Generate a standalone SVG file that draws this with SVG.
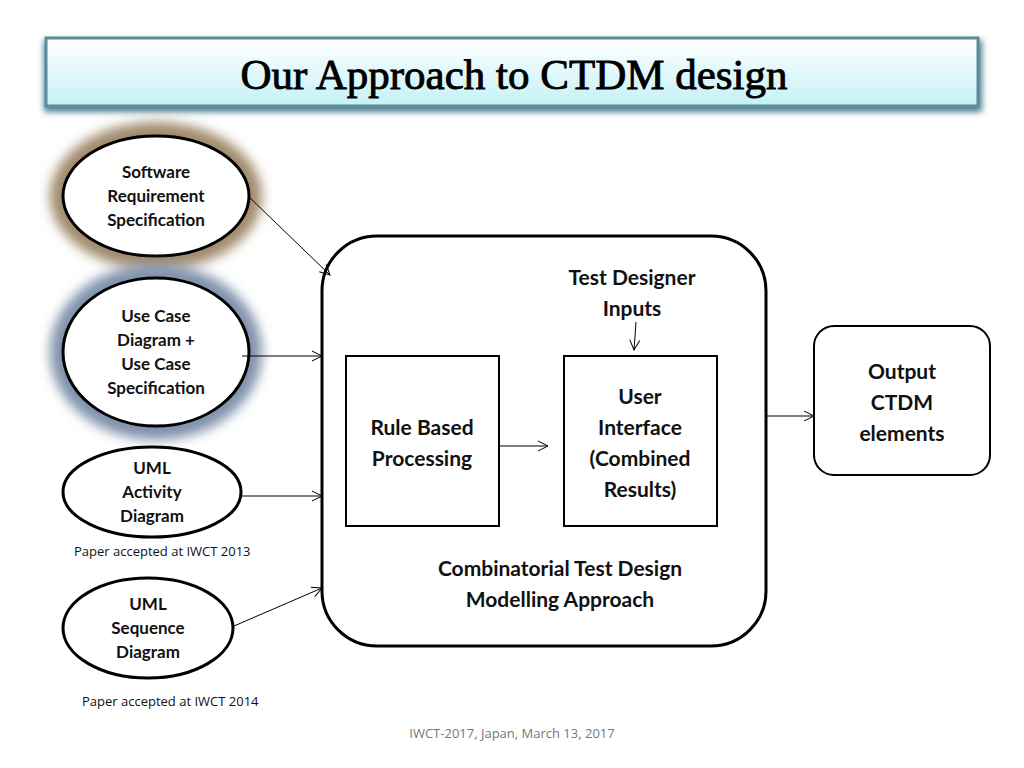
<svg xmlns="http://www.w3.org/2000/svg" width="1024" height="768" viewBox="0 0 1024 768">
<defs>
<linearGradient id="tg" x1="0" y1="0" x2="0" y2="1"><stop offset="0" stop-color="#ffffff"/><stop offset="1" stop-color="#c4f1f7"/></linearGradient>
<filter id="blur" x="-30%" y="-30%" width="160%" height="160%"><feGaussianBlur stdDeviation="6"/></filter>
<filter id="sh" x="-5%" y="-20%" width="110%" height="150%"><feGaussianBlur stdDeviation="3"/></filter>
<marker id="ah" viewBox="0 0 12 12" refX="11" refY="6" markerWidth="12" markerHeight="12" markerUnits="userSpaceOnUse" orient="auto"><path d="M1,1 L11,6 L1,11" fill="none" stroke="#000" stroke-width="1"/></marker>
<style>
.n{fill:#fff;stroke:#000;stroke-width:3}
.t{font-family:Lato,"Open Sans",sans-serif;font-weight:bold;text-anchor:middle;fill:#111}
.s{font-size:17px}.b{font-size:21px}
.c{stroke:#000;stroke-width:1;fill:none;marker-end:url(#ah)}
.f{font-family:"Open Sans",sans-serif;font-size:13px;fill:#111}
</style>
</defs>
<rect width="1024" height="768" fill="#fff"/>
<g id="title">
<rect x="44" y="40" width="938" height="72" fill="#4a8090" filter="url(#sh)"/>
<rect x="46" y="38" width="932" height="68" fill="url(#tg)" stroke="#5a8c9a" stroke-width="3"/>
<text x="514" y="89" font-family="'Liberation Serif',serif" font-size="43" text-anchor="middle" fill="#000" stroke="#000" stroke-width="0.9">Our Approach to CTDM design</text>
</g>
<g id="srs">
<ellipse cx="156" cy="196" rx="106" ry="74" fill="#a08a6c" filter="url(#blur)"/>
<ellipse class="n" cx="156" cy="196" rx="93" ry="60"/>
<text class="t s" x="156" y="178">Software</text><text class="t s" x="156" y="202">Requirement</text><text class="t s" x="156" y="226">Specification</text>
</g>
<g id="usecase">
<ellipse cx="156" cy="352" rx="106" ry="88" fill="#8092ac" filter="url(#blur)"/>
<ellipse class="n" cx="156" cy="352" rx="93" ry="74"/>
<text class="t s" x="156" y="322">Use Case</text><text class="t s" x="156" y="346">Diagram +</text><text class="t s" x="156" y="370">Use Case</text><text class="t s" x="156" y="394">Specification</text>
</g>
<g id="activity">
<ellipse class="n" cx="152" cy="492" rx="89" ry="45"/>
<text class="t s" x="152" y="474">UML</text><text class="t s" x="152" y="498">Activity</text><text class="t s" x="152" y="522">Diagram</text>
</g>
<text class="f" x="74" y="556">Paper accepted at IWCT 2013</text>
<g id="sequence">
<ellipse class="n" cx="148" cy="628" rx="85" ry="50"/>
<text class="t s" x="148" y="610">UML</text><text class="t s" x="148" y="634">Sequence</text><text class="t s" x="148" y="658">Diagram</text>
</g>
<text class="f" x="82" y="706">Paper accepted at IWCT 2014</text>
<g id="ctdm">
<rect class="n" x="322" y="236" width="444" height="410" rx="55"/>
<text class="t b" x="632" y="285">Test Designer</text><text class="t b" x="632" y="316">Inputs</text>
<text class="t b" x="560" y="576">Combinatorial Test Design</text><text class="t b" x="560" y="607">Modelling Approach</text>
</g>
<g id="rule">
<rect x="346" y="356" width="153" height="170" fill="#fff" stroke="#000" stroke-width="2"/>
<text class="t b" x="422" y="435">Rule Based</text><text class="t b" x="422" y="466">Processing</text>
</g>
<g id="ui">
<rect x="564" y="356" width="153" height="170" fill="#fff" stroke="#000" stroke-width="2"/>
<text class="t b" x="640" y="404">User</text><text class="t b" x="640" y="435">Interface</text><text class="t b" x="640" y="466">(Combined</text><text class="t b" x="640" y="497">Results)</text>
</g>
<g id="output">
<rect x="814" y="326" width="176" height="149" rx="20" fill="#fff" stroke="#000" stroke-width="2"/>
<text class="t b" x="902" y="379">Output</text><text class="t b" x="902" y="410">CTDM</text><text class="t b" x="902" y="441">elements</text>
</g>
<g id="connectors">
<line class="c" x1="248" y1="196" x2="330" y2="275"/>
<line class="c" x1="242" y1="356" x2="322" y2="356"/>
<line class="c" x1="242" y1="496" x2="322" y2="496"/>
<line class="c" x1="234" y1="626" x2="322" y2="588"/>
<line class="c" x1="500" y1="446" x2="548" y2="446"/>
<line class="c" x1="636" y1="322" x2="634" y2="350"/>
<line class="c" x1="766" y1="416" x2="814" y2="416"/>
</g>
<text class="f" x="512" y="738" text-anchor="middle" style="fill:#777">IWCT-2017, Japan, March 13, 2017</text>
</svg>
